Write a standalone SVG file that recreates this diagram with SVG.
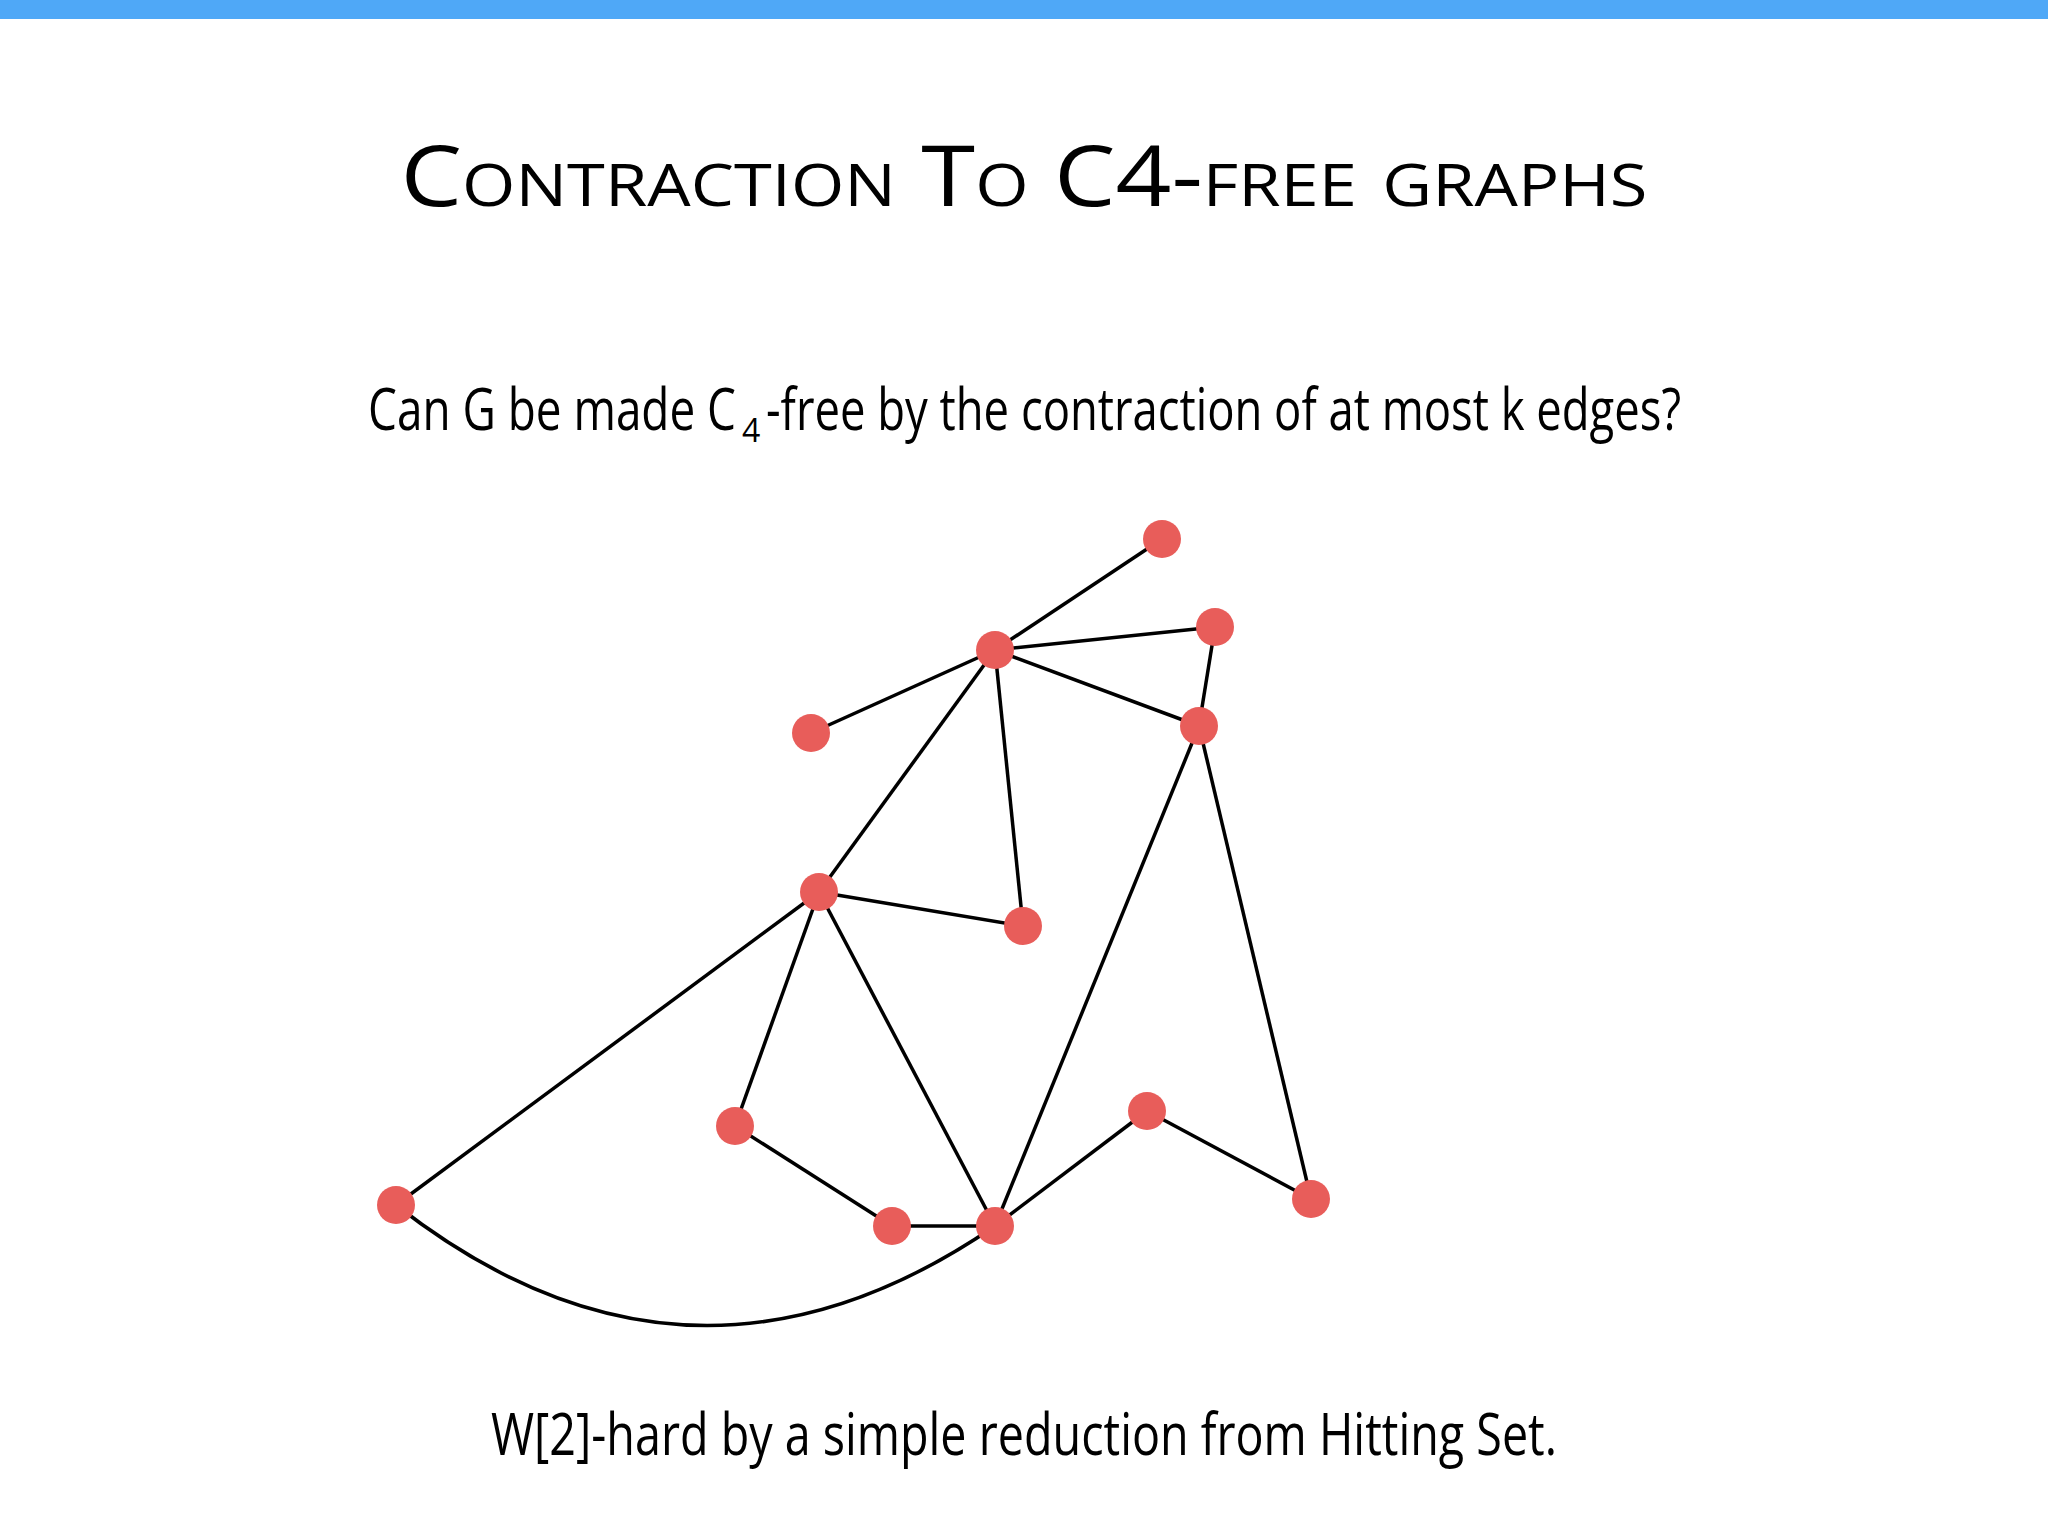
<svg xmlns="http://www.w3.org/2000/svg" width="2048" height="1536" viewBox="0 0 2048 1536">
<style>
.e{stroke:#000;stroke-width:3.5;fill:none}
.n{fill:#e85d5a}
.t{font-family:"Open Sans","Liberation Sans",sans-serif;fill:#000}
</style>
<rect width="2048" height="1536" fill="#fff"/>
<rect width="2048" height="19" fill="#4fa8f7"/>
<text class="t" x="1024" y="206" text-anchor="middle" font-size="84" font-variant="small-caps" textLength="1247" lengthAdjust="spacingAndGlyphs">Contraction To C4-free graphs</text>
<text class="t" x="368" y="430" font-size="58" textLength="368" lengthAdjust="spacingAndGlyphs">Can G be made C</text>
<text class="t" x="742" y="442" font-size="32">4</text>
<text class="t" x="766" y="430" font-size="58" textLength="915" lengthAdjust="spacingAndGlyphs">-free by the contraction of at most k edges?</text>
<text class="t" x="1024" y="1455" text-anchor="middle" font-size="58" textLength="1066" lengthAdjust="spacingAndGlyphs">W[2]-hard by a simple reduction from Hitting Set.</text>
<g id="connectors">
<line class="e" x1="995" y1="650" x2="1162" y2="539"/>
<line class="e" x1="995" y1="650" x2="1215" y2="627"/>
<line class="e" x1="1215" y1="627" x2="1199" y2="726"/>
<line class="e" x1="995" y1="650" x2="1199" y2="726"/>
<line class="e" x1="995" y1="650" x2="811" y2="733"/>
<line class="e" x1="995" y1="650" x2="819" y2="892"/>
<line class="e" x1="995" y1="650" x2="1023" y2="926"/>
<line class="e" x1="819" y1="892" x2="1023" y2="926"/>
<line class="e" x1="819" y1="892" x2="396" y2="1205"/>
<line class="e" x1="819" y1="892" x2="735" y2="1126"/>
<line class="e" x1="819" y1="892" x2="995" y2="1226"/>
<line class="e" x1="1199" y1="726" x2="995" y2="1226"/>
<line class="e" x1="1199" y1="726" x2="1311" y2="1199"/>
<line class="e" x1="735" y1="1126" x2="892" y2="1226"/>
<line class="e" x1="892" y1="1226" x2="995" y2="1226"/>
<line class="e" x1="995" y1="1226" x2="1147" y2="1111"/>
<line class="e" x1="1147" y1="1111" x2="1311" y2="1199"/>
<path class="e" d="M396,1205 Q690,1435 995,1226"/>
</g>
<g id="nA"><circle class="n" cx="1162" cy="539" r="19"/></g>
<g id="nB"><circle class="n" cx="1215" cy="627" r="19"/></g>
<g id="nC"><circle class="n" cx="995" cy="650" r="19"/></g>
<g id="nD"><circle class="n" cx="811" cy="733" r="19"/></g>
<g id="nE"><circle class="n" cx="1199" cy="726" r="19"/></g>
<g id="nF"><circle class="n" cx="819" cy="892" r="19"/></g>
<g id="nG"><circle class="n" cx="1023" cy="926" r="19"/></g>
<g id="nH"><circle class="n" cx="735" cy="1126" r="19"/></g>
<g id="nI"><circle class="n" cx="1147" cy="1111" r="19"/></g>
<g id="nJ"><circle class="n" cx="396" cy="1205" r="19"/></g>
<g id="nK"><circle class="n" cx="892" cy="1226" r="19"/></g>
<g id="nL"><circle class="n" cx="995" cy="1226" r="19"/></g>
<g id="nM"><circle class="n" cx="1311" cy="1199" r="19"/></g>
</svg>
